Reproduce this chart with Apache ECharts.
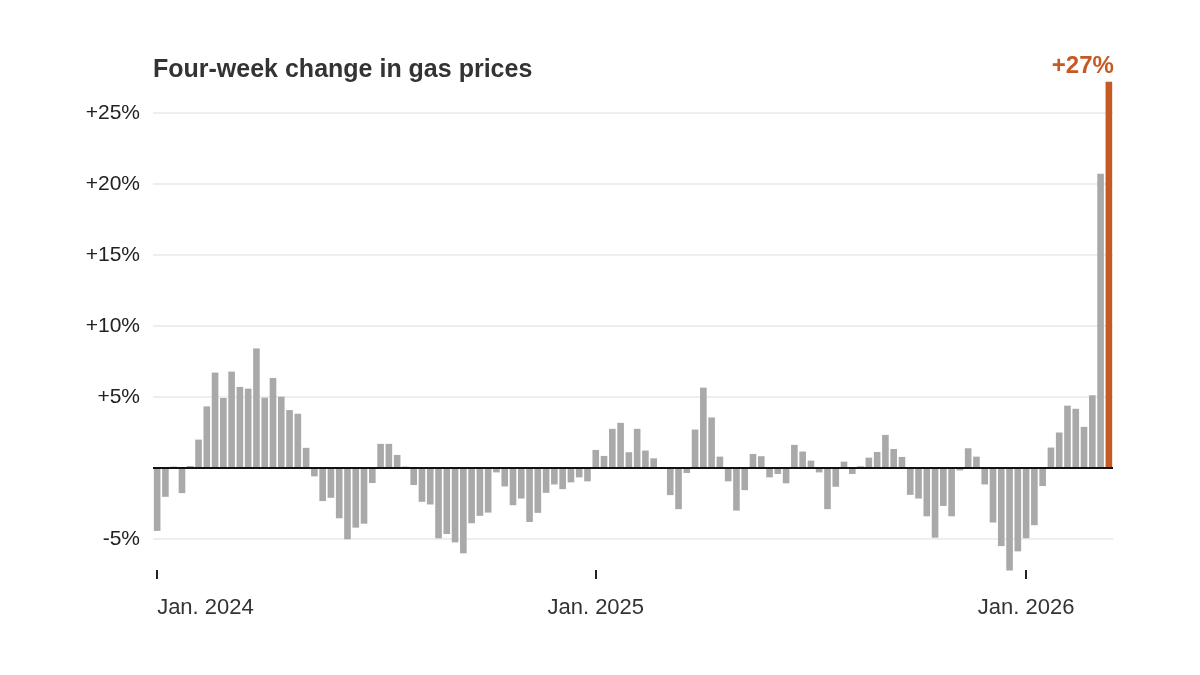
<!DOCTYPE html>
<html><head><meta charset="utf-8">
<script src="https://cdn.jsdelivr.net/npm/echarts@6/dist/echarts.min.js"></script>
<style>html,body{margin:0;padding:0;background:#fff}#c{width:1200px;height:675px}</style>
</head><body><div id="c"></div>
<script>
// Weekly four-week % change in gas prices, first week Jan 2024 -> early Mar 2026
const values = [
 -4.43,-2.03,0.1,-1.77,0.14,2.0,4.34,6.72,4.93,6.79,
 5.71,5.59,8.42,4.95,6.34,5.02,4.08,3.82,1.42,-0.59,
 -2.33,-2.10,-3.54,-5.02,-4.20,-3.92,-1.06,1.70,1.70,0.92,
 0.1,-1.2,-2.38,-2.57,-4.95,-4.65,-5.24,-6.01,-3.89,-3.37,
 -3.14,-0.31,-1.30,-2.62,-2.15,-3.80,-3.16,-1.75,-1.16,-1.49,
 -1.01,-0.66,-0.94,1.27,0.85,2.76,3.18,1.11,2.76,1.23,
 0.68,-0.05,-1.91,-2.90,-0.35,2.71,5.66,3.56,0.80,-0.94,
 -3.0,-1.56,0.99,0.83,-0.66,-0.42,-1.08,1.63,1.16,0.52,
 -0.31,-2.90,-1.32,0.45,-0.42,0.12,0.73,1.13,2.33,1.34,
 0.78,-1.89,-2.15,-3.40,-4.91,-2.67,-3.40,-0.17,1.39,0.80,
 -1.16,-3.84,-5.50,-7.22,-5.87,-4.95,-4.03,-1.27,1.44,2.50,
 4.39,4.17,2.90,5.12,20.72,27.2
];
// weekly category dates (Mondays)
const startDate = '2024-01-01';
const categories = [];
(function(){
  const d = new Date(startDate + 'T00:00:00Z');
  for (let i = 0; i < values.length; i++) {
    const c = new Date(d.getTime() + i * 7 * 86400000);
    categories.push(c.toISOString().slice(0, 10));
  }
})();
const tickDates = ['2024-01-01', '2025-01-06', '2026-01-05'];
const tickLabels = ['Jan. 2024', 'Jan. 2025', 'Jan. 2026'];
const yTicks = [-5, 5, 10, 15, 20, 25];
const titleText = 'Four-week change in gas prices';
const lastLabel = '+27%';

const GRAY = '#a9a9a9', ORANGE = '#c65a24';
const FONT = 'Liberation Sans';

const chart = echarts.init(document.getElementById('c'), null, {renderer: 'canvas'});
const seriesData = values.map((v, i) => {
  if (i === values.length - 1) {
    return {value: v, itemStyle: {color: ORANGE},
      label: {show: true, position: 'top', formatter: lastLabel, align: 'right', offset: [5, 2],
        color: ORANGE, fontWeight: 'bold', fontSize: 24, fontFamily: FONT}};
  }
  return v;
});
const gridColors = [-10, -5, 0, 5, 10, 15, 20, 25, 30].map(v => yTicks.includes(v) ? '#e8e8e8' : 'rgba(0,0,0,0)');

chart.setOption({
  animation: false,
  backgroundColor: '#fff',
  title: {text: titleText, left: 153, top: 58, padding: 0,
    textStyle: {fontFamily: FONT, fontWeight: 'bold', fontSize: 25, color: '#333'}},
  grid: {left: 153, right: 87, top: 42, bottom: 65},
  xAxis: {
    type: 'category', data: categories, boundaryGap: true, offset: -40,
    axisLine: {show: false, onZero: false},
    axisTick: {show: true, alignWithLabel: true, length: 9, lineStyle: {color: '#222', width: 2},
      interval: (i, v) => tickDates.includes(v)},
    axisLabel: {interval: (i, v) => tickDates.includes(v),
      formatter: v => { const k = tickDates.indexOf(v); return k >= 0 ? tickLabels[k] : ''; },
      margin: 27, fontSize: 22, color: '#333', fontFamily: FONT, alignMinLabel: 'left',
      padding: [0, 0, 0, 0]},
    splitLine: {show: false}
  },
  yAxis: {
    type: 'value', min: -10, max: 30, interval: 5,
    axisLine: {show: false}, axisTick: {show: false},
    axisLabel: {margin: 13, fontSize: 21, color: '#222', fontFamily: FONT,
      formatter: v => yTicks.includes(v) ? (v > 0 ? '+' + v + '%' : v + '%') : ''},
    splitLine: {show: true, lineStyle: {color: gridColors, width: 1.5}}
  },
  series: [{
    type: 'bar', data: seriesData, barCategoryGap: '20%', itemStyle: {color: GRAY},
    markLine: {silent: true, symbol: 'none', label: {show: false},
      lineStyle: {color: '#111', width: 2, type: 'solid'}, data: [{yAxis: 0}]}
  }]
});
</script></body></html>
